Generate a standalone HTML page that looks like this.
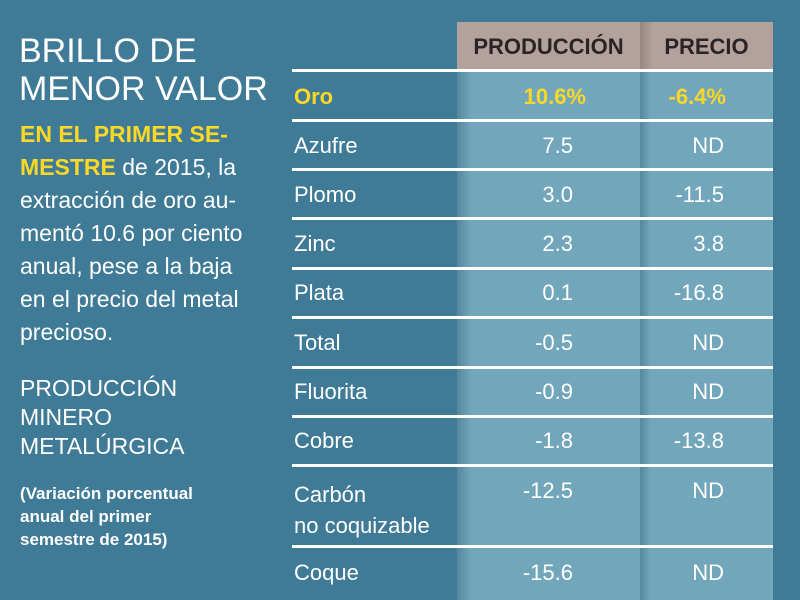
<!DOCTYPE html><html><head><meta charset="utf-8"><style>
body{margin:0;width:800px;height:600px;overflow:hidden;background:#3f7a96;font-family:"Liberation Sans",sans-serif;color:#fff;position:relative}
.a{position:absolute;white-space:nowrap}
.t{font-size:34px;left:19px;line-height:38px;top:32px}
.b{font-size:23px;left:20px;line-height:33px;top:118px}
.y{color:#fcd826;font-weight:bold}
.c{position:absolute;top:22px;bottom:0;background:linear-gradient(90deg,#55889e 0,#72a6ba 8%,#72a6ba 100%)}
.h{position:absolute;top:22px;height:48px;background:#b3a29c;color:#2a2426;font-weight:bold;font-size:22px;line-height:50px;text-align:center}
.l{position:absolute;left:292px;width:481px;height:3px;background:#fff}
.r{position:absolute;font-size:22px;line-height:24px}
.n{left:294px}.p{right:227px;text-align:right}.q{right:76px;text-align:right}
</style></head><body>
<div class="a t">BRILLO DE<br>MENOR VALOR</div>
<div class="a b"><span class="y">EN EL PRIMER SE-<br>MESTRE</span> de 2015, la<br>extracción de oro au-<br>mentó 10.6 por ciento<br>anual, pese a la baja<br>en el precio del metal<br>precioso.</div>
<div class="a" style="left:20px;top:374px;font-size:23px;line-height:29px">PRODUCCIÓN<br>MINERO<br>METALÚRGICA</div>
<div class="a" style="left:20px;top:482px;font-size:17px;line-height:23px;font-weight:bold">(Variación porcentual<br>anual del primer<br>semestre de 2015)</div>
<div class="c" style="left:457px;width:183px"></div>
<div class="c" style="left:640px;width:133px"></div>
<div class="h" style="left:457px;width:183px">PRODUCCIÓN</div>
<div class="h" style="left:640px;width:133px;background:linear-gradient(90deg,#9a8782,#b3a29c 10%)">PRECIO</div>
<div class="l" style="top:69px"></div><div class="l" style="top:119px"></div><div class="l" style="top:168px"></div><div class="l" style="top:217px"></div><div class="l" style="top:267px"></div><div class="l" style="top:316px"></div><div class="l" style="top:366px"></div><div class="l" style="top:415px"></div><div class="l" style="top:464px"></div><div class="l" style="top:545px"></div>
<div class="r n y" style="top:85px">Oro</div><div class="r p y" style="top:85px;right:214px">10.6%</div><div class="r q y" style="top:85px;right:74px">-6.4%</div>
<div class="r n" style="top:134px">Azufre</div><div class="r p" style="top:134px">7.5</div><div class="r q" style="top:134px">ND</div>
<div class="r n" style="top:183px">Plomo</div><div class="r p" style="top:183px">3.0</div><div class="r q" style="top:183px">-11.5</div>
<div class="r n" style="top:232px">Zinc</div><div class="r p" style="top:232px">2.3</div><div class="r q" style="top:232px">3.8</div>
<div class="r n" style="top:281px">Plata</div><div class="r p" style="top:281px">0.1</div><div class="r q" style="top:281px">-16.8</div>
<div class="r n" style="top:331px">Total</div><div class="r p" style="top:331px">-0.5</div><div class="r q" style="top:331px">ND</div>
<div class="r n" style="top:380px">Fluorita</div><div class="r p" style="top:380px">-0.9</div><div class="r q" style="top:380px">ND</div>
<div class="r n" style="top:429px">Cobre</div><div class="r p" style="top:429px">-1.8</div><div class="r q" style="top:429px">-13.8</div>
<div class="r n" style="top:479px;line-height:31px">Carbón<br>no coquizable</div><div class="r p" style="top:479px">-12.5</div><div class="r q" style="top:479px">ND</div>
<div class="r n" style="top:561px">Coque</div><div class="r p" style="top:561px">-15.6</div><div class="r q" style="top:561px">ND</div>
</body></html>
